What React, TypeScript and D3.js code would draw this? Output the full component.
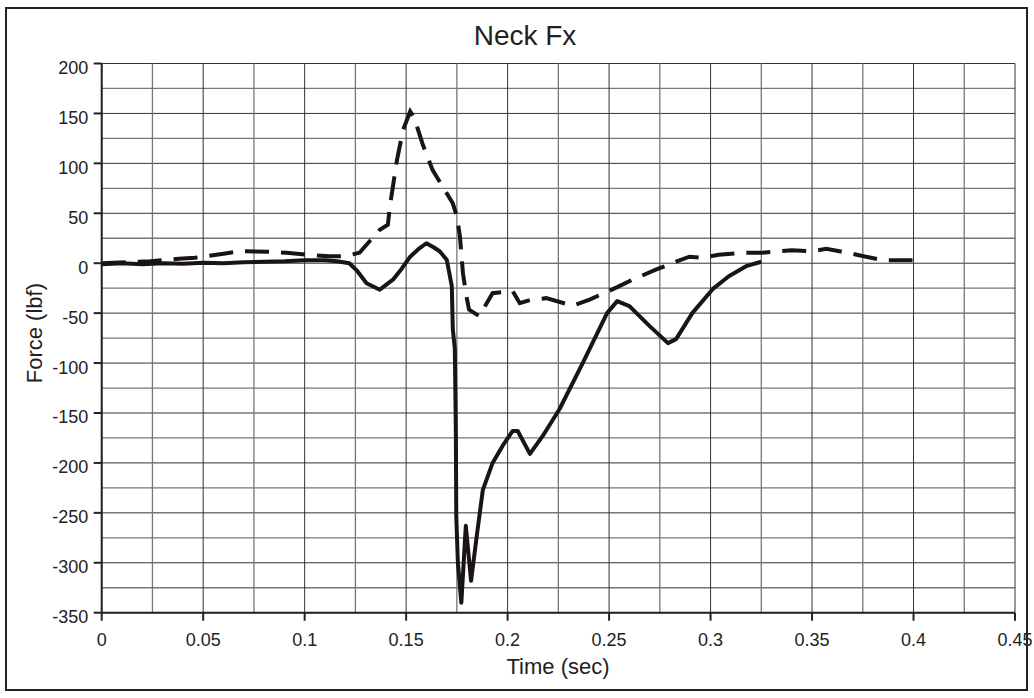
import React from "react";
import * as d3 from "d3";

const title = "Neck Fx";
const xLabel = "Time (sec)";
const yLabel = "Force (lbf)";
const xTicks = [0, 0.05, 0.1, 0.15, 0.2, 0.25, 0.3, 0.35, 0.4, 0.45];
const yTicks = [200, 150, 100, 50, 0, -50, -100, -150, -200, -250, -300, -350];

const solidT = [0, 0.01, 0.02, 0.03, 0.04, 0.05, 0.06, 0.07, 0.08, 0.09, 0.1, 0.11, 0.116, 0.122, 0.126, 0.1305, 0.137, 0.1435, 0.148, 0.152, 0.156, 0.16, 0.1635, 0.1665, 0.17, 0.1725, 0.173, 0.174, 0.1745, 0.1747, 0.1755, 0.1772, 0.1794, 0.182, 0.185, 0.1878, 0.1926, 0.1975, 0.2025, 0.205, 0.211, 0.2173, 0.2256, 0.237, 0.249, 0.254, 0.26, 0.27, 0.279, 0.283, 0.291, 0.301, 0.309, 0.3175, 0.325];
const solidF = [-1, 0, -1, 0, -0.5, 0.5, 0, 1, 1.5, 2, 3, 3, 2, 0, -8, -20, -26.5, -16.5, -5, 6.5, 14, 20, 16, 12, 3.5, -23, -66, -86, -170, -253, -300, -340, -263, -318, -270, -227, -200, -183, -168, -168, -191, -173, -146, -100, -50, -38, -43, -63, -80, -76, -50, -26, -13, -3, 1.5];

const dashT = [0, 0.024, 0.038, 0.046, 0.06, 0.068, 0.083, 0.091, 0.101, 0.112, 0.12, 0.127, 0.132, 0.137, 0.141, 0.142, 0.1455, 0.1485, 0.152, 0.154, 0.158, 0.163, 0.17, 0.173, 0.175, 0.1765, 0.178, 0.1797, 0.181, 0.186, 0.1926, 0.2025, 0.206, 0.211, 0.219, 0.232, 0.2404, 0.254, 0.2616, 0.273, 0.283, 0.2896, 0.296, 0.304, 0.3175, 0.3255, 0.34, 0.35, 0.357, 0.3635, 0.372, 0.3846, 0.3995];
const dashF = [0, 2, 4.5, 5.5, 9.5, 12, 11.5, 10.5, 8.5, 7, 7, 10.5, 22, 33.5, 38.5, 57, 103.5, 133.5, 152, 145.5, 120, 93.5, 70, 60, 47, 27, -10, -33, -46.5, -53, -30, -28, -40, -37, -35, -42.5, -36.5, -24, -16.5, -6.5, 1.5, 6.5, 5.5, 8.5, 10.5, 10.5, 13, 12, 14.5, 12, 8.5, 3, 3];

const W = 1034;
const H = 698;
const left = 101.7;
const right = 1015;
const top = 63.5;
const bottom = 612.7;
const font = "'Liberation Sans', Arial, sans-serif";

export default function App() {
  const x = d3.scaleLinear().domain([0, 0.45]).range([left, right]);
  const y = d3.scaleLinear().domain([-350, 200]).range([bottom, top]);
  const line = d3
    .line<[number, number]>()
    .x((d) => x(d[0]))
    .y((d) => y(d[1]));
  const solid: [number, number][] = solidT.map((t, i) => [t, solidF[i]]);
  const dashed: [number, number][] = dashT.map((t, i) => [t, dashF[i]]);
  const xGrid = d3.range(0, 19).map((i) => i * 0.025);
  const yGrid = d3.range(0, 23).map((i) => -350 + i * 25);

  return (
    <svg
      width={W}
      height={H}
      style={{ position: "absolute", left: 0, top: 0, background: "#fff" }}
      fontFamily={font}
    >
      <rect x={0} y={0} width={W} height={H} fill="#fff" />
      <rect x={6} y={8} width={1021} height={682} fill="none" stroke="#222" strokeWidth={2} />
      {yGrid.map((v, i) => (
        <line
          key={"yg" + i}
          x1={left}
          x2={right}
          y1={y(v)}
          y2={y(v)}
          stroke={i % 2 === 0 ? "#333" : "#777"}
          strokeWidth={i % 2 === 0 ? 1 : 1.3}
        />
      ))}
      {xGrid.map((v, i) => (
        <line
          key={"xg" + i}
          x1={x(v)}
          x2={x(v)}
          y1={top}
          y2={bottom}
          stroke={i % 2 === 0 ? "#333" : "#777"}
          strokeWidth={i % 2 === 0 ? 1 : 1.3}
        />
      ))}
      <line x1={left} x2={left} y1={top} y2={bottom} stroke="#222" strokeWidth={2} />
      <line x1={left} x2={right} y1={bottom} y2={bottom} stroke="#222" strokeWidth={2} />
      {yTicks.map((v) => (
        <g key={"yt" + v}>
          <line x1={left - 8} x2={left} y1={y(v)} y2={y(v)} stroke="#222" strokeWidth={2} />
          <text x={left - 13.5} y={y(v) + 10.5} textAnchor="end" fontSize={18} fill="#222">
            {v}
          </text>
        </g>
      ))}
      {xTicks.map((v) => (
        <g key={"xt" + v}>
          <line x1={x(v)} x2={x(v)} y1={bottom} y2={bottom + 8} stroke="#222" strokeWidth={2} />
          <text x={x(v)} y={bottom + 33} textAnchor="middle" fontSize={18} fill="#222">
            {String(v)}
          </text>
        </g>
      ))}
      <text x={525} y={45} textAnchor="middle" fontSize={28} fill="#222">
        {title}
      </text>
      <text x={558} y={674} textAnchor="middle" fontSize={22} fill="#222">
        {xLabel}
      </text>
      <text
        transform={`translate(41.5, ${(top + bottom) / 2 - 5}) rotate(-90)`}
        textAnchor="middle"
        fontSize={22}
        fill="#222"
      >
        {yLabel}
      </text>
      <path
        d={line(dashed) || ""}
        fill="none"
        stroke="#1a1414"
        strokeWidth={4}
        strokeDasharray="24,12"
      />
      <path
        d={line(solid) || ""}
        fill="none"
        stroke="#1a1414"
        strokeWidth={4}
        strokeLinejoin="round"
      />
    </svg>
  );
}
